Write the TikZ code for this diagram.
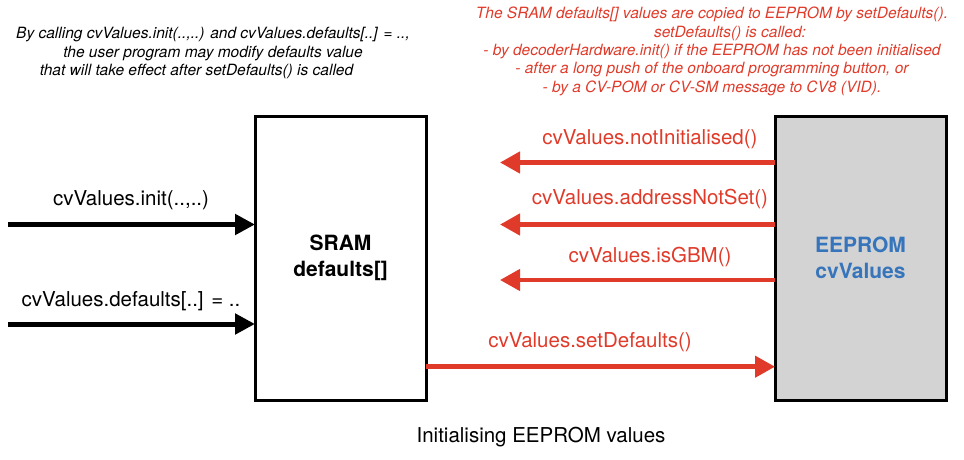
\documentclass[tikz,border=0pt]{standalone}
\usepackage{fontspec}
\setmainfont{TeX Gyre Heros}
\usetikzlibrary{arrows.meta}
\definecolor{cvred}{RGB}{224,59,42}
\definecolor{cvblue}{RGB}{54,117,187}
\definecolor{cvgrey}{RGB}{211,211,211}
\begin{document}
\begin{tikzpicture}[x=1pt,y=-1pt,
  box/.style={draw=black,line width=3pt,minimum width=171pt,minimum height=284pt,inner sep=0pt,outer sep=0pt,align=center,font=\fontsize{21}{26.5}\selectfont\bfseries},
  blackarrow/.style={line width=5pt,-{Triangle[length=20pt,width=20pt]}},
  redarrow/.style={cvred,line width=4.5pt,-{Triangle[length=20pt,width=21pt]}},
  lbl/.style={font=\fontsize{20.5}{24}\selectfont,inner sep=0pt},
  note/.style={font=\fontsize{15.5}{18.3}\selectfont\itshape,align=center,inner sep=0pt}]
\useasboundingbox (0,0) rectangle (964,460);

% boxes
\node[box] (sram) at (340.5,258) {SRAM\\defaults[]};
\node[box,fill=cvgrey,text=cvblue] (eeprom) at (860.5,258) {EEPROM\\cvValues};

% free ends
\coordinate (in1) at (8,224.5);
\coordinate (in2) at (8,324);
\coordinate (t1) at (500,162.5);
\coordinate (t2) at (500,224.5);
\coordinate (t3) at (500,280);
\coordinate (s1) at (426,366.7);

% black input arrows
\draw[blackarrow] (in1) -- (in1 -| sram.west);
\draw[blackarrow] (in2) -- (in2 -| sram.west);
\node[lbl] (l1) at (131,200) {cvValues.init(..,..)};
\node[lbl] (l2) at (131,301) {cvValues.defaults[..] = ..};

% red arrows from EEPROM
\draw[redarrow] (t1 -| eeprom.west) -- (t1);
\draw[redarrow] (t2 -| eeprom.west) -- (t2);
\draw[redarrow] (t3 -| eeprom.west) -- (t3);
\draw[redarrow] (sram.east |- s1) -- (eeprom.west |- s1);
\node[lbl,text=cvred] (r1) at (650,139.5) {cvValues.notInitialised()};
\node[lbl,text=cvred] (r2) at (650,199.5) {cvValues.addressNotSet()};
\node[lbl,text=cvred] (r3) at (650,257) {cvValues.isGBM()};
\node[lbl,text=cvred] (r4) at (590,342) {cvValues.setDefaults()};

% notes
\node[note] (n1) at (213,53) {By calling cvValues.init(..,..) and cvValues.defaults[..] = ..,\\the user program may modify defaults value\\that will take effect after setDefaults() is called\hspace*{33pt}};
\node[note,text=cvred] (n2) at (712,51.5) {The SRAM defaults[] values are copied to EEPROM by setDefaults().\\\hspace*{36pt}setDefaults() is called:\\- by decoderHardware.init() if the EEPROM has not been initialised\\- after a long push of the onboard programming button, or\\- by a CV-POM or CV-SM message to CV8 (VID).};

% caption
\node[lbl] (cap) at (541,437) {Initialising EEPROM values};
\end{tikzpicture}
\end{document}
